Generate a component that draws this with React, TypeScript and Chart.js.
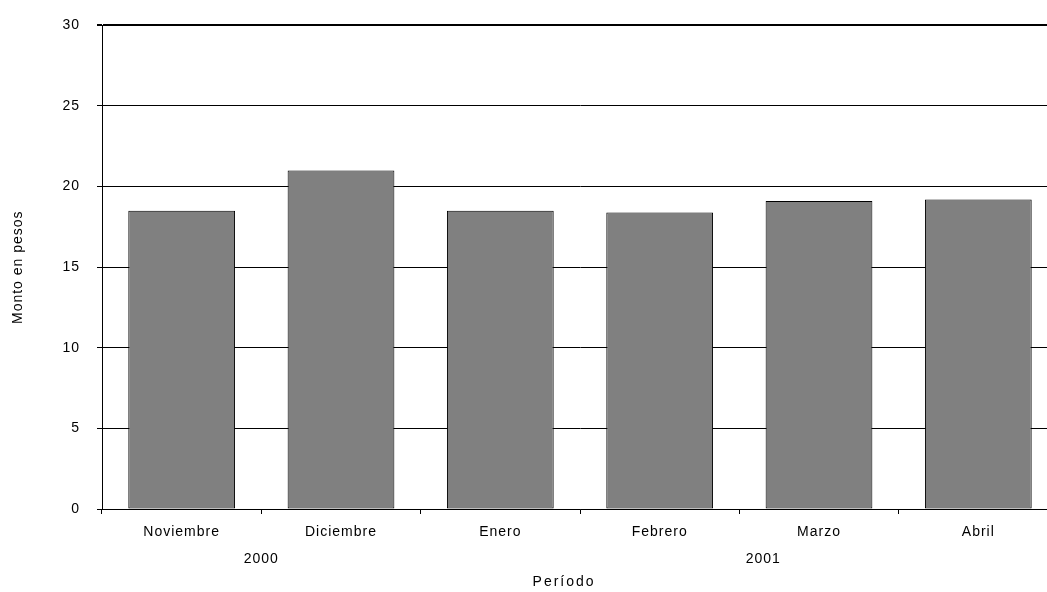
import React, { useEffect, useRef } from "react";
import { Chart, registerables } from "chart.js";

Chart.register(...registerables);

const categories = ["Noviembre", "Diciembre", "Enero", "Febrero", "Marzo", "Abril"];
const montos = [18.5, 21.0, 18.5, 18.4, 19.1, 19.2];
const yearLabels = ["2000", "2001"];
const yTitle = "Monto en pesos";
const xTitle = "Período";

const FONT = "'Liberation Sans', Arial, sans-serif";

const extraLabels = {
  id: "extraLabels",
  beforeDraw(chart: any) {
    chart.ctx.letterSpacing = "1px";
  },
  afterDraw(chart: any) {
    const ctx = chart.ctx;
    const xs = chart.scales.x;
    ctx.save();
    ctx.fillStyle = "#000";
    ctx.font = `14px ${FONT}`;
    ctx.textAlign = "center";
    ctx.textBaseline = "middle";
    ctx.letterSpacing = "1px";
    ctx.fillText(yearLabels[0], xs.getPixelForValue(0.5), 559);
    ctx.fillText(yearLabels[1], xs.getPixelForValue(3.65), 559);
    ctx.letterSpacing = "2px";
    ctx.fillText(xTitle, xs.getPixelForValue(2.4), 582);
    ctx.restore();
  },
};

export default function App() {
  const ref = useRef<HTMLCanvasElement | null>(null);

  useEffect(() => {
    if (!ref.current) return;
    const chart = new Chart(ref.current, {
      type: "bar",
      data: {
        labels: categories,
        datasets: [
          {
            data: montos,
            backgroundColor: "#808080",
            borderColor: "#000000",
            borderWidth: 1,
            borderSkipped: false,
            barPercentage: 0.67,
            categoryPercentage: 1,
          },
        ],
      },
      options: {
        animation: false,
        responsive: true,
        maintainAspectRatio: false,
        layout: { padding: { top: 23, right: 4, left: 0, bottom: 0 } },
        plugins: {
          legend: { display: false },
          tooltip: { enabled: false },
        },
        scales: {
          x: {
            offset: true,
            grid: {
              display: true,
              offset: true,
              drawOnChartArea: false,
              drawTicks: true,
              tickLength: 5,
              color: "#000",
            },
            border: { display: true, color: "#000", width: 1 },
            ticks: {
              color: "#000",
              font: { family: FONT, size: 14 },
              padding: 10,
              maxRotation: 0,
              autoSkip: false,
            },
            afterFit(scale: any) {
              scale.height = 83;
            },
          },
          y: {
            min: 0,
            max: 30,
            ticks: {
              stepSize: 5,
              color: "#000",
              font: { family: FONT, size: 14 },
              padding: 17,
            },
            grid: {
              color: "#000",
              lineWidth: (c: any) => (c.tick && c.tick.value === 30 ? 2 : 1),
              tickLength: 5,
            },
            border: { display: true, color: "#000", width: 1 },
            title: {
              display: true,
              text: yTitle,
              color: "#000",
              font: { family: FONT, size: 14 },
              padding: { top: 10, bottom: 0 },
            },
            afterFit(scale: any) {
              scale.width = 102;
            },
          },
        },
      },
      plugins: [extraLabels],
    });
    return () => chart.destroy();
  }, []);

  return (
    <div
      style={{
        position: "fixed",
        left: 0,
        top: 0,
        width: 1047,
        height: 592,
        overflow: "hidden",
        background: "#fff",
      }}
    >
      <div style={{ position: "relative", width: 1062, height: 592 }}>
        <canvas ref={ref} />
      </div>
    </div>
  );
}
